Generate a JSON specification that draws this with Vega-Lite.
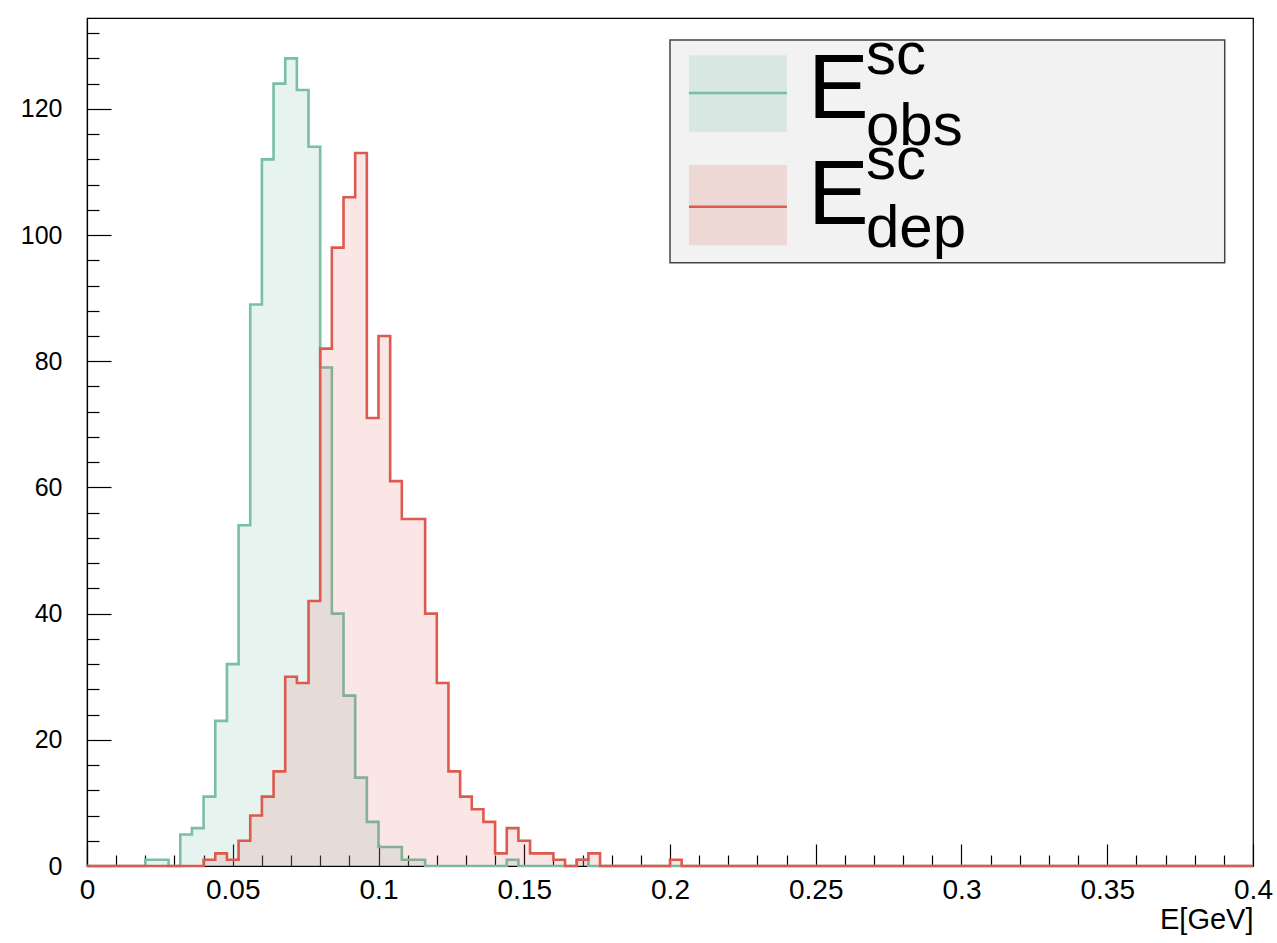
{
  "$schema": "https://vega.github.io/schema/vega-lite/v6.json",
  "width": 1166,
  "height": 848,
  "autosize": {"type": "none"},
  "padding": {"left": 87, "top": 18, "right": 24, "bottom": 77},
  "background": "white",
  "config": {
    "font": "Liberation Sans",
    "view": {"stroke": "#000000", "strokeWidth": 1.2},
    "axis": {"grid": false, "domainColor": "#000000", "tickColor": "#000000", "labelColor": "#000000", "titleColor": "#000000", "domainWidth": 1.2, "tickWidth": 1.2}
  },
  "data": {
    "values": [
      {"e": 0, "obs": 0, "dep": 0},
      {"e": 0.004, "obs": 0, "dep": 0},
      {"e": 0.008, "obs": 0, "dep": 0},
      {"e": 0.012, "obs": 0, "dep": 0},
      {"e": 0.016, "obs": 0, "dep": 0},
      {"e": 0.02, "obs": 1, "dep": 0},
      {"e": 0.024, "obs": 1, "dep": 0},
      {"e": 0.028, "obs": 0, "dep": 0},
      {"e": 0.032, "obs": 5, "dep": 0},
      {"e": 0.036, "obs": 6, "dep": 0},
      {"e": 0.04, "obs": 11, "dep": 1},
      {"e": 0.044, "obs": 23, "dep": 2},
      {"e": 0.048, "obs": 32, "dep": 1},
      {"e": 0.052, "obs": 54, "dep": 4},
      {"e": 0.056, "obs": 89, "dep": 8},
      {"e": 0.06, "obs": 112, "dep": 11},
      {"e": 0.064, "obs": 124, "dep": 15},
      {"e": 0.068, "obs": 128, "dep": 30},
      {"e": 0.072, "obs": 123, "dep": 29},
      {"e": 0.076, "obs": 114, "dep": 42},
      {"e": 0.08, "obs": 79, "dep": 82},
      {"e": 0.084, "obs": 40, "dep": 98},
      {"e": 0.088, "obs": 27, "dep": 106},
      {"e": 0.092, "obs": 14, "dep": 113},
      {"e": 0.096, "obs": 7, "dep": 71},
      {"e": 0.1, "obs": 3, "dep": 84},
      {"e": 0.104, "obs": 3, "dep": 61},
      {"e": 0.108, "obs": 1, "dep": 55},
      {"e": 0.112, "obs": 1, "dep": 55},
      {"e": 0.116, "obs": 0, "dep": 40},
      {"e": 0.12, "obs": 0, "dep": 29},
      {"e": 0.124, "obs": 0, "dep": 15},
      {"e": 0.128, "obs": 0, "dep": 11},
      {"e": 0.132, "obs": 0, "dep": 9},
      {"e": 0.136, "obs": 0, "dep": 7},
      {"e": 0.14, "obs": 0, "dep": 2},
      {"e": 0.144, "obs": 1, "dep": 6},
      {"e": 0.148, "obs": 0, "dep": 4},
      {"e": 0.152, "obs": 0, "dep": 2},
      {"e": 0.156, "obs": 0, "dep": 2},
      {"e": 0.16, "obs": 0, "dep": 1},
      {"e": 0.164, "obs": 0, "dep": 0},
      {"e": 0.168, "obs": 1, "dep": 1},
      {"e": 0.172, "obs": 0, "dep": 2},
      {"e": 0.176, "obs": 0, "dep": 0},
      {"e": 0.18, "obs": 0, "dep": 0},
      {"e": 0.184, "obs": 0, "dep": 0},
      {"e": 0.188, "obs": 0, "dep": 0},
      {"e": 0.192, "obs": 0, "dep": 0},
      {"e": 0.196, "obs": 0, "dep": 0},
      {"e": 0.2, "obs": 0, "dep": 1},
      {"e": 0.204, "obs": 0, "dep": 0},
      {"e": 0.4, "obs": 0, "dep": 0}
    ]
  },
  "resolve": {"axis": {"x": "independent", "y": "independent"}},
  "layer": [
    {
      "mark": {"type": "area", "interpolate": "step-after", "color": "#78bfa4", "opacity": 0.18},
      "encoding": {
        "x": {"field": "e", "type": "quantitative", "scale": {"domain": [0, 0.4], "nice": false, "zero": false},
          "axis": {"orient": "bottom", "values": [0, 0.05, 0.1, 0.15, 0.2, 0.25, 0.3, 0.35, 0.4], "format": "~g", "tickSize": -22, "labelPadding": 32, "labelFontSize": 28, "labelFlush": false, "labelOverlap": false, "labelBound": false,
            "title": "E[GeV]", "titleAnchor": "end", "titleAlign": "right", "titleFontSize": 29, "titleFontWeight": "normal", "titlePadding": 1}},
        "y": {"field": "obs", "type": "quantitative", "stack": null, "scale": {"domain": [0, 134.4], "nice": false},
          "axis": {"orient": "left", "values": [0, 20, 40, 60, 80, 100, 120], "tickSize": -24, "labelPadding": 49, "labelFontSize": 25, "title": null, "labelOverlap": false}}
      }
    },
    {
      "mark": {"type": "line", "interpolate": "step-after", "color": "#78bfa4", "strokeWidth": 2.6},
      "encoding": {
        "x": {"field": "e", "type": "quantitative", "scale": {"domain": [0, 0.4], "nice": false, "zero": false},
          "axis": {"orient": "bottom", "values": [0.01, 0.02, 0.03, 0.04, 0.06, 0.07, 0.08, 0.09, 0.11, 0.12, 0.13, 0.14, 0.16, 0.17, 0.18, 0.19, 0.21, 0.22, 0.23, 0.24, 0.26, 0.27, 0.28, 0.29, 0.31, 0.32, 0.33, 0.34, 0.36, 0.37, 0.38, 0.39], "tickSize": -11, "labels": false, "domain": false, "title": null}},
        "y": {"field": "obs", "type": "quantitative", "scale": {"domain": [0, 134.4], "nice": false},
          "axis": {"orient": "left", "values": [4, 8, 12, 16, 24, 28, 32, 36, 44, 48, 52, 56, 64, 68, 72, 76, 84, 88, 92, 96, 104, 108, 112, 116, 124, 128, 132], "tickSize": -12, "labels": false, "domain": false, "title": null}}
      }
    },
    {
      "mark": {"type": "area", "interpolate": "step-after", "color": "#dc5a50", "opacity": 0.15},
      "encoding": {
        "x": {"field": "e", "type": "quantitative", "scale": {"domain": [0, 0.4], "nice": false, "zero": false}, "axis": null},
        "y": {"field": "dep", "type": "quantitative", "stack": null, "scale": {"domain": [0, 134.4], "nice": false}, "axis": null}
      }
    },
    {
      "mark": {"type": "line", "interpolate": "step-after", "color": "#dc5a50", "strokeWidth": 2.6},
      "encoding": {
        "x": {"field": "e", "type": "quantitative", "scale": {"domain": [0, 0.4], "nice": false, "zero": false}, "axis": null},
        "y": {"field": "dep", "type": "quantitative", "scale": {"domain": [0, 134.4], "nice": false}, "axis": null}
      }
    },
    {
      "data": {"values": [{}]},
      "mark": {"type": "rect", "fill": "#f2f2f2", "stroke": "#444444", "strokeWidth": 1.5},
      "encoding": {
        "x": {"datum": 0.2, "type": "quantitative", "scale": {"domain": [0, 0.4], "nice": false, "zero": false}, "axis": null},
        "x2": {"datum": 0.3903},
        "y": {"datum": 130.9, "type": "quantitative", "scale": {"domain": [0, 134.4], "nice": false}, "axis": null},
        "y2": {"datum": 95.6}
      }
    },
    {
      "data": {"values": [{}]},
      "mark": {"type": "rect", "fill": "#78bfa4", "opacity": 0.2},
      "encoding": {
        "x": {"datum": 0.2065, "type": "quantitative", "scale": {"domain": [0, 0.4], "nice": false, "zero": false}, "axis": null},
        "x2": {"datum": 0.2401},
        "y": {"datum": 128.5, "type": "quantitative", "scale": {"domain": [0, 134.4], "nice": false}, "axis": null},
        "y2": {"datum": 116.3}
      }
    },
    {
      "data": {"values": [{}]},
      "mark": {"type": "rule", "color": "#78bfa4", "strokeWidth": 2.5},
      "encoding": {
        "x": {"datum": 0.2065, "type": "quantitative", "scale": {"domain": [0, 0.4], "nice": false, "zero": false}, "axis": null},
        "x2": {"datum": 0.2401},
        "y": {"datum": 122.5, "type": "quantitative", "scale": {"domain": [0, 134.4], "nice": false}, "axis": null}
      }
    },
    {
      "data": {"values": [{}]},
      "mark": {"type": "rect", "fill": "#dc5a50", "opacity": 0.17},
      "encoding": {
        "x": {"datum": 0.2065, "type": "quantitative", "scale": {"domain": [0, 0.4], "nice": false, "zero": false}, "axis": null},
        "x2": {"datum": 0.2401},
        "y": {"datum": 111.1, "type": "quantitative", "scale": {"domain": [0, 134.4], "nice": false}, "axis": null},
        "y2": {"datum": 98.4}
      }
    },
    {
      "data": {"values": [{}]},
      "mark": {"type": "rule", "color": "#dc5a50", "strokeWidth": 2.5},
      "encoding": {
        "x": {"datum": 0.2065, "type": "quantitative", "scale": {"domain": [0, 0.4], "nice": false, "zero": false}, "axis": null},
        "x2": {"datum": 0.2401},
        "y": {"datum": 104.5, "type": "quantitative", "scale": {"domain": [0, 134.4], "nice": false}, "axis": null}
      }
    },
    {
      "data": {"values": [{}]},
      "mark": {"type": "text", "text": "E", "fontSize": 91, "align": "left", "baseline": "alphabetic", "color": "#000000"},
      "encoding": {
        "x": {"datum": 0.2473, "type": "quantitative", "scale": {"domain": [0, 0.4], "nice": false, "zero": false}, "axis": null},
        "y": {"datum": 118.6, "type": "quantitative", "scale": {"domain": [0, 134.4], "nice": false}, "axis": null}
      }
    },
    {
      "data": {"values": [{}]},
      "mark": {"type": "text", "text": "sc", "fontSize": 60, "align": "left", "baseline": "alphabetic", "color": "#000000"},
      "encoding": {
        "x": {"datum": 0.2672, "type": "quantitative", "scale": {"domain": [0, 0.4], "nice": false, "zero": false}, "axis": null},
        "y": {"datum": 125.6, "type": "quantitative", "scale": {"domain": [0, 134.4], "nice": false}, "axis": null}
      }
    },
    {
      "data": {"values": [{}]},
      "mark": {"type": "text", "text": "obs", "fontSize": 60, "align": "left", "baseline": "alphabetic", "color": "#000000"},
      "encoding": {
        "x": {"datum": 0.2672, "type": "quantitative", "scale": {"domain": [0, 0.4], "nice": false, "zero": false}, "axis": null},
        "y": {"datum": 114.3, "type": "quantitative", "scale": {"domain": [0, 134.4], "nice": false}, "axis": null}
      }
    },
    {
      "data": {"values": [{}]},
      "mark": {"type": "text", "text": "E", "fontSize": 91, "align": "left", "baseline": "alphabetic", "color": "#000000"},
      "encoding": {
        "x": {"datum": 0.2473, "type": "quantitative", "scale": {"domain": [0, 0.4], "nice": false, "zero": false}, "axis": null},
        "y": {"datum": 101.8, "type": "quantitative", "scale": {"domain": [0, 134.4], "nice": false}, "axis": null}
      }
    },
    {
      "data": {"values": [{}]},
      "mark": {"type": "text", "text": "sc", "fontSize": 60, "align": "left", "baseline": "alphabetic", "color": "#000000"},
      "encoding": {
        "x": {"datum": 0.2672, "type": "quantitative", "scale": {"domain": [0, 0.4], "nice": false, "zero": false}, "axis": null},
        "y": {"datum": 108.9, "type": "quantitative", "scale": {"domain": [0, 134.4], "nice": false}, "axis": null}
      }
    },
    {
      "data": {"values": [{}]},
      "mark": {"type": "text", "text": "dep", "fontSize": 60, "align": "left", "baseline": "alphabetic", "color": "#000000"},
      "encoding": {
        "x": {"datum": 0.2672, "type": "quantitative", "scale": {"domain": [0, 0.4], "nice": false, "zero": false}, "axis": null},
        "y": {"datum": 98.1, "type": "quantitative", "scale": {"domain": [0, 134.4], "nice": false}, "axis": null}
      }
    }
  ]
}
